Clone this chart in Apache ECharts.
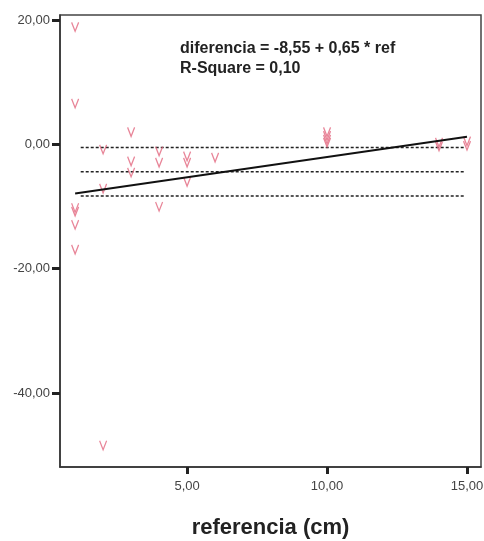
<!DOCTYPE html>
<html>
<head>
<meta charset="utf-8">
<script src="https://cdn.jsdelivr.net/npm/echarts@6/dist/echarts.min.js"></script>
<style>
  html, body { margin: 0; padding: 0; background: #fff; }
  #chart { width: 484px; height: 541px; }
</style>
</head>
<body>
<div id="chart"></div>
<script>
// puntos (referencia, diferencia)
var points = [
  [1, 18.9], [1, 6.6], [1, -10.2], [1, -10.8], [1, -12.9], [1, -16.9],
  [2, -0.8], [2, -7.1], [2, -48.4],
  [3, 2.0], [3, -2.7], [3, -4.5],
  [4, -1.1], [4, -2.9], [4, -10.0],
  [5, -1.9], [5, -2.9], [5, -6.0],
  [6, -2.1],
  [10, 2.0], [10, 1.4], [10, 0.8], [10, 0.3],
  [14, 0.3], [14, -0.3],
  [15, 0.5], [15, -0.2]
];
// recta de regresion: diferencia = -8,55 + 0,65 * ref
var fitLine = [[1, -7.9], [15, 1.2]];
// lineas de referencia punteadas
var refLevels = [-0.5, -4.4, -8.3];
var refRange = [1.2, 14.9];
var xTicks = [5, 10, 15];
var yTicks = [20, 0, -20, -40];

initChart();
function initChart(){
  var dom = document.getElementById('chart');
  var myChart = echarts.init(dom, null, { renderer: 'canvas' });

  function fmt(v){ return v.toFixed(2).replace('.', ','); }

  var series = [
    {
      type: 'scatter',
      data: points,
      symbol: 'path://M0,0L5,10L10,0',
      symbolSize: [7, 9],
      itemStyle: { color: 'transparent', borderColor: '#e2667e', borderWidth: 1.4 },
      z: 3
    },
    {
      type: 'line',
      data: fitLine,
      showSymbol: false,
      lineStyle: { color: '#111', width: 2 },
      z: 4
    }
  ];
  refLevels.forEach(function(v){
    series.push({
      type: 'line',
      data: [[refRange[0], v], [refRange[1], v]],
      showSymbol: false,
      lineStyle: { color: '#222', width: 1.5, type: [3, 2] },
      z: 2
    });
  });

  var option = {
    animation: false,
    grid: {
      left: 60, right: 3, top: 15, bottom: 74,
      show: true, borderColor: '#444', borderWidth: 1.5,
      outerBoundsMode: 'none'
    },
    xAxis: {
      type: 'value',
      min: 0.46, max: 15.5,
      name: 'referencia (cm)',
      nameLocation: 'middle',
      nameGap: 50,
      nameTextStyle: { fontSize: 22, fontWeight: 'bold', color: '#222', fontFamily: 'Liberation Sans' },
      splitLine: { show: false },
      axisLine: { onZero: false, lineStyle: { color: '#333', width: 1.5 } },
      axisTick: { customValues: xTicks, length: 7, lineStyle: { color: '#222', width: 3 } },
      axisLabel: { customValues: xTicks, formatter: fmt, margin: 13, fontSize: 13, color: '#444', fontFamily: 'Liberation Sans' }
    },
    yAxis: {
      type: 'value',
      min: -51.9, max: 20.8,
      splitLine: { show: false },
      axisLine: { show: true, onZero: false, lineStyle: { color: '#333', width: 1.5 } },
      axisTick: { show: true, customValues: yTicks, length: 8, lineStyle: { color: '#222', width: 3 } },
      axisLabel: { customValues: yTicks, formatter: fmt, margin: 10, fontSize: 13, color: '#444', fontFamily: 'Liberation Sans' }
    },
    graphic: [
      {
        type: 'text', left: 180, top: 39,
        style: {
          text: 'diferencia = -8,55 + 0,65 * ref\nR-Square = 0,10',
          font: 'bold 16px "Liberation Sans"', fill: '#222', lineHeight: 20
        }
      }
    ],
    series: series
  };

  myChart.setOption(option);
  window.addEventListener('resize', myChart.resize);
}
</script>
</body>
</html>
